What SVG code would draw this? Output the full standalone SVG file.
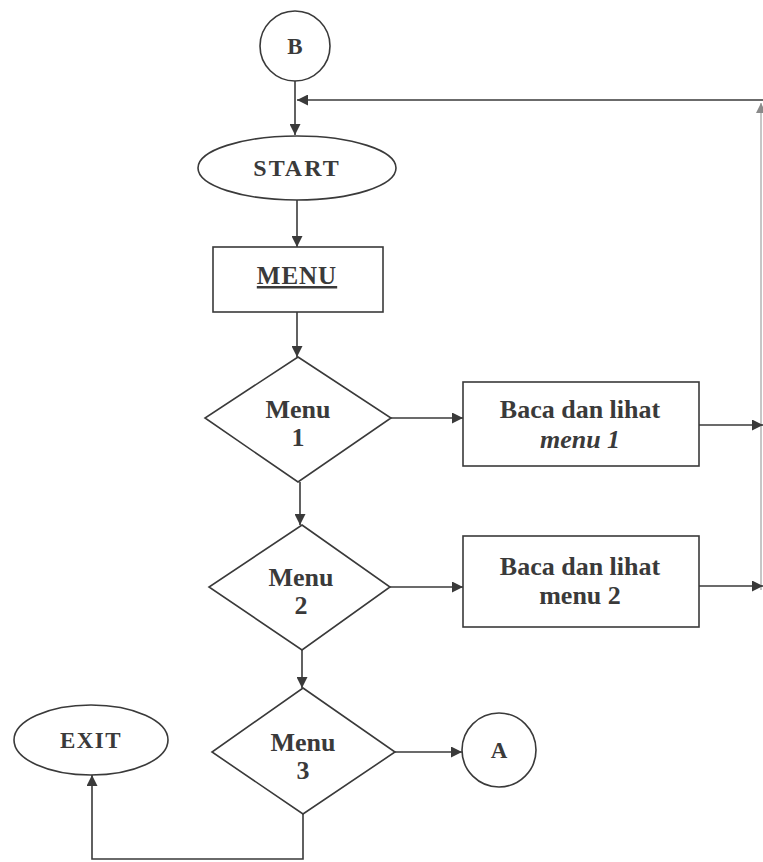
<svg xmlns="http://www.w3.org/2000/svg" width="763" height="862" viewBox="0 0 763 862">
<style>
.shape{fill:#fff;stroke:#3a3a3a;stroke-width:1.6}
.ln{fill:none;stroke:#3a3a3a;stroke-width:1.6}
.faint{fill:none;stroke:#a0a0a0;stroke-width:1.2}
text{font-family:"Liberation Serif","Times New Roman",serif;font-weight:bold;fill:#3a3a3a;text-anchor:middle}
.big{font-size:26px}
.mid{font-size:23px}
</style>
<defs>
<marker id="ah" viewBox="0 0 10 10" refX="10" refY="5" markerWidth="12" markerHeight="11" markerUnits="userSpaceOnUse" orient="auto">
<path d="M0,0 L10,5 L0,10 z" fill="#3a3a3a"/>
</marker>
<marker id="ahf" viewBox="0 0 10 10" refX="10" refY="5" markerWidth="11" markerHeight="10" markerUnits="userSpaceOnUse" orient="auto">
<path d="M0,0 L10,5 L0,10 z" fill="#8a8a8a"/>
</marker>
</defs>
<g id="connectors">
<line class="ln" x1="295" y1="81" x2="295" y2="135" marker-end="url(#ah)"/>
<line class="ln" x1="763" y1="100" x2="297" y2="100" marker-end="url(#ah)"/>
<line class="faint" x1="761" y1="590" x2="761" y2="103" marker-end="url(#ahf)"/>
<line class="ln" x1="297" y1="200" x2="297" y2="247" marker-end="url(#ah)"/>
<line class="ln" x1="297" y1="312" x2="297" y2="357" marker-end="url(#ah)"/>
<line class="ln" x1="391" y1="418" x2="463" y2="418" marker-end="url(#ah)"/>
<line class="ln" x1="699" y1="425" x2="763" y2="425" marker-end="url(#ah)"/>
<line class="ln" x1="300" y1="482" x2="300" y2="525" marker-end="url(#ah)"/>
<line class="ln" x1="390" y1="587" x2="463" y2="587" marker-end="url(#ah)"/>
<line class="ln" x1="699" y1="586" x2="763" y2="586" marker-end="url(#ah)"/>
<line class="ln" x1="302" y1="650" x2="302" y2="688" marker-end="url(#ah)"/>
<line class="ln" x1="395" y1="752" x2="462" y2="752" marker-end="url(#ah)"/>
<polyline class="ln" points="303,814 303,859 92,859 92,775" marker-end="url(#ah)"/>
</g>
<g id="B">
<circle class="shape" cx="295" cy="46" r="35"/>
<text class="mid" x="295" y="54">B</text>
</g>
<g id="start">
<ellipse class="shape" cx="297" cy="168" rx="99" ry="32"/>
<text x="297" y="176" font-size="24" letter-spacing="2">START</text>
</g>
<g id="menu">
<rect class="shape" x="213" y="247" width="170" height="65"/>
<text x="297" y="284" font-size="25" text-decoration="underline" letter-spacing="1">MENU</text>
</g>
<g id="menu1">
<polygon class="shape" points="298,357 391,418 298,482 205,418"/>
<text class="big" x="298" y="418">Menu</text>
<text class="big" x="298" y="446">1</text>
</g>
<g id="baca1">
<rect class="shape" x="463" y="382" width="236" height="84"/>
<text class="big" x="580" y="418">Baca dan lihat</text>
<text class="big" x="580" y="448" font-style="italic">menu 1</text>
</g>
<g id="menu2">
<polygon class="shape" points="302,525 390,587 302,650 209,587"/>
<text class="big" x="301" y="586">Menu</text>
<text class="big" x="301" y="614">2</text>
</g>
<g id="baca2">
<rect class="shape" x="463" y="536" width="236" height="91"/>
<text class="big" x="580" y="575">Baca dan lihat</text>
<text class="big" x="580" y="604">menu 2</text>
</g>
<g id="menu3">
<polygon class="shape" points="303,688 395,752 303,814 212,752"/>
<text class="big" x="303" y="751">Menu</text>
<text class="big" x="303" y="779">3</text>
</g>
<g id="exit">
<ellipse class="shape" cx="91" cy="740" rx="77" ry="35"/>
<text class="mid" x="91" y="748" letter-spacing="1.5">EXIT</text>
</g>
<g id="A">
<circle class="shape" cx="499" cy="750" r="37"/>
<text class="mid" x="499" y="758">A</text>
</g>
</svg>
